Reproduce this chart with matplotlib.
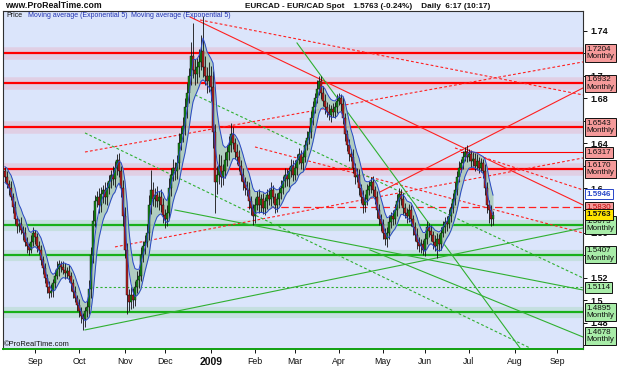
import matplotlib
matplotlib.use('Agg')
import matplotlib.pyplot as plt
import numpy as np
import pandas as pd

plt.rcParams['font.family'] = ['Liberation Sans', 'DejaVu Sans']

W, H, DPI = 625, 375, 100

# ── data ─────────────────────────────────────────────────────────────────────
start_date = '2008-08-11'
first_open = 1.615

close = [
    1.610, 1.604, 1.600, 1.592, 1.583, 1.572, 1.566, 1.568, 1.563, 1.560,
    1.552, 1.548, 1.545, 1.552, 1.560, 1.556, 1.548, 1.545, 1.536, 1.529,
    1.520, 1.512, 1.506, 1.508, 1.515, 1.522, 1.528, 1.532, 1.530, 1.527,
    1.524, 1.526, 1.522, 1.515, 1.507, 1.502, 1.496, 1.490, 1.486, 1.483,
    1.490, 1.494, 1.510, 1.540, 1.571, 1.588, 1.592, 1.585, 1.595, 1.598,
    1.592, 1.600, 1.606, 1.612, 1.608, 1.618, 1.625, 1.615, 1.600, 1.575,
    1.545, 1.505, 1.498, 1.505, 1.500, 1.512, 1.518, 1.522, 1.540, 1.548,
    1.552, 1.560, 1.585, 1.598, 1.590, 1.594, 1.588, 1.592, 1.585, 1.576,
    1.572, 1.578, 1.600, 1.612, 1.618, 1.615, 1.622, 1.640, 1.648, 1.655,
    1.672, 1.685, 1.700, 1.718, 1.705, 1.702, 1.708, 1.712, 1.722, 1.708,
    1.700, 1.695, 1.700, 1.690, 1.650, 1.605, 1.612, 1.620, 1.610, 1.615,
    1.625, 1.632, 1.638, 1.648, 1.640, 1.632, 1.628, 1.620, 1.612, 1.605,
    1.600, 1.598, 1.588, 1.582, 1.575, 1.585, 1.592, 1.585, 1.590, 1.582,
    1.588, 1.594, 1.590, 1.598, 1.592, 1.585, 1.590, 1.596, 1.600, 1.606,
    1.612, 1.608, 1.615, 1.620, 1.612, 1.618, 1.625, 1.630, 1.622, 1.628,
    1.638, 1.645, 1.650, 1.662, 1.672, 1.680, 1.688, 1.695, 1.685, 1.678,
    1.672, 1.668, 1.665, 1.670, 1.668, 1.672, 1.678, 1.680, 1.675, 1.662,
    1.648, 1.638, 1.630, 1.628, 1.618, 1.610, 1.612, 1.600, 1.592, 1.585,
    1.590, 1.598, 1.602, 1.605, 1.598, 1.592, 1.580, 1.572, 1.568, 1.560,
    1.555, 1.560, 1.570, 1.575, 1.572, 1.580, 1.588, 1.595, 1.590, 1.582,
    1.578, 1.575, 1.580, 1.572, 1.565, 1.558, 1.552, 1.548, 1.550, 1.545,
    1.555, 1.565, 1.562, 1.558, 1.552, 1.548, 1.555, 1.550, 1.560, 1.565,
    1.570, 1.568, 1.575, 1.582, 1.590, 1.598, 1.610, 1.618, 1.622, 1.628,
    1.632, 1.628, 1.630, 1.624, 1.626, 1.620, 1.624, 1.618, 1.622, 1.615,
    1.600, 1.585, 1.580, 1.572, 1.5763,
]

# wick lengths above / below the body, in 0.001
up_wick = [
    4, 5, 3, 6, 4, 5, 3, 4, 6, 3,   5, 4, 3, 6, 5, 3, 4, 5, 4, 3,
    4, 3, 5, 6, 4, 5, 7, 4, 3, 5,   6, 4, 5, 3, 4, 6, 3, 5, 4, 3,
    4, 6, 8, 7, 9, 6, 5, 8, 6, 5,   7, 5, 6, 4, 8, 6, 5, 6, 5, 7,
    8, 6, 5, 7, 6, 5, 8, 6, 7, 5,   6, 8, 9, 18, 7, 6, 8, 5, 7, 6,
    5, 7, 9, 6, 8, 5, 7, 9, 6, 8,   8, 9, 7, 12, 29, 10, 8, 12, 14, 31,
    10, 8, 12, 9, 14, 7, 8, 10, 9, 6,   7, 6, 8, 10, 6, 5, 7, 6, 5, 6,
    5, 6, 7, 5, 4, 6, 5, 7, 5, 6,   4, 5, 6, 7, 5, 4, 6, 5, 7, 5,
    6, 5, 4, 6, 5, 7, 5, 6, 4, 5,   5, 6, 4, 7, 6, 5, 8, 5, 5, 6,
    6, 5, 7, 4, 6, 5, 6, 5, 4, 6,   5, 4, 6, 5, 7, 4, 6, 5, 4, 6,
    5, 6, 4, 5, 6, 4, 5, 6, 5, 4,   4, 5, 6, 4, 5, 6, 7, 5, 4, 6,
    5, 4, 6, 5, 4, 5, 6, 4, 5, 4,   5, 6, 4, 5, 4, 6, 5, 4, 5, 6,
    4, 5, 6, 5, 6, 7, 5, 6, 4, 5,   5, 6, 5, 4, 6, 5, 6, 4, 5, 4,
    6, 5, 4, 5, 3,
]
down_wick = [
    5, 4, 6, 3, 5, 4, 6, 5, 4, 6,   4, 6, 5, 3, 4, 6, 5, 4, 5, 6,
    5, 6, 4, 3, 5, 4, 3, 6, 5, 4,   5, 4, 6, 7, 5, 4, 6, 5, 6, 10,
    7, 5, 6, 8, 7, 6, 5, 7, 6, 8,   6, 7, 5, 6, 5, 7, 6, 5, 8, 9,
    7, 17, 8, 6, 7, 5, 6, 7, 5, 6,  7, 5, 6, 8, 6, 7, 5, 8, 6, 7,
    8, 6, 5, 7, 6, 8, 7, 5, 6, 7,   8, 10, 9, 8, 7, 10, 8, 9, 7, 9,
    8, 10, 9, 12, 14, 27, 10, 8, 9, 7,   6, 5, 7, 6, 5, 6, 7, 5, 6, 7,
    6, 5, 7, 6, 8, 6, 5, 7, 6, 5,   6, 7, 5, 6, 5, 7, 6, 5, 6, 5,
    5, 6, 7, 5, 6, 5, 6, 4, 5, 6,   5, 4, 6, 5, 6, 5, 4, 5, 6, 5,
    6, 5, 4, 6, 5, 6, 5, 4, 6, 5,   6, 5, 6, 4, 5, 6, 5, 6, 5, 7,
    6, 5, 4, 6, 5, 6, 7, 5, 6, 5,   6, 8, 5, 6, 5, 4, 5, 6, 5, 6,
    5, 6, 5, 6, 7, 5, 6, 5, 6, 5,   6, 5, 6, 5, 6, 4, 10, 6, 5, 4,
    5, 6, 4, 5, 4, 5, 4, 5, 4, 5,   4, 5, 4, 5, 4, 5, 4, 5, 4, 6,
    6, 7, 11, 6, 5,
]

month_starts = ['2008-09-01', '2008-10-01', '2008-11-01', '2008-12-01', '2009-01-01',
                '2009-02-01', '2009-03-01', '2009-04-01', '2009-05-01', '2009-06-01',
                '2009-07-01', '2009-08-01', '2009-09-01']
month_labels = ['Sep', 'Oct', 'Nov', 'Dec', '2009', 'Feb', 'Mar', 'Apr', 'May',
                'Jun', 'Jul', 'Aug', 'Sep']

# price scale: ticks every 0.02, only these labels show past the boxes
y_ticks = [1.46, 1.48, 1.50, 1.52, 1.54, 1.56, 1.58, 1.60, 1.62, 1.64,
           1.66, 1.68, 1.70, 1.72, 1.74]
y_labeled = [1.48, 1.50, 1.52, 1.56, 1.60, 1.64, 1.68, 1.70, 1.74]

# horizontal support / resistance levels
red_levels = [1.7204, 1.6932, 1.6543, 1.6170]
green_levels = [1.5673, 1.5407, 1.4895]
thin_red_level = 1.6317
dashed_red_level = 1.5830
dotted_green_level = 1.5114
ema_last = 1.5946
trend_label = 1.4678

# trend lines: bar number and price at both ends
red_tl_x0 = [92.5, 97.5, 40, 187.5, 55, 225, 125]
red_tl_y0 = [1.7525, 1.7498, 1.6321, 1.5965, 1.5475, 1.6357, 1.6366]
red_tl_x1 = [289, 289, 289, 289, 289, 289, 289]
red_tl_y1 = [1.5849, 1.6830, 1.7124, 1.6892, 1.6268, 1.5983, 1.5599]
red_tl_dash = [False, True, True, False, True, True, True]

green_tl_x0 = [146, 40, 95, 85, 182.5, 40]
green_tl_y0 = [1.7293, 1.6491, 1.6830, 1.5804, 1.5448, 1.4735]
green_tl_x1 = [257.5, 262.5, 289, 289, 289, 289]
green_tl_y1 = [1.4574, 1.4574, 1.5198, 1.5091, 1.4672, 1.5644]
green_tl_dash = [False, True, True, False, False, False]

# ── derived series ───────────────────────────────────────────────────────────
close = np.array(close)
opn = np.concatenate([[first_open], close[:-1]])
high = np.maximum(opn, close) + np.array(up_wick) / 1000
low = np.minimum(opn, close) - np.array(down_wick) / 1000
idx = np.arange(len(close))
ema_hi = pd.Series(high).ewm(span=5, adjust=False).mean()
ema_lo = pd.Series(low).ewm(span=5, adjust=False).mean()

all_days = pd.bdate_range(start_date, '2009-09-30')
tick_pos = [all_days.searchsorted(pd.Timestamp(d)) for d in month_starts]

# ── figure ───────────────────────────────────────────────────────────────────
fig = plt.figure(figsize=(W / DPI, H / DPI), dpi=DPI, facecolor='white')
ax = fig.add_axes([3 / W, 26 / H, 580 / W, 338 / H])
ax.set_facecolor('#dbe5fb')
ax.set_xlim(-1, 289)
ax.set_ylim(1.4565, 1.7578)

for s in ['left', 'top', 'right']:
    ax.spines[s].set_color('#303030')
    ax.spines[s].set_linewidth(0.8)
ax.spines['bottom'].set_color('#10a010')
ax.spines['bottom'].set_linewidth(1.4)

# horizontal levels with soft glow
for lv in red_levels:
    ax.axhline(lv, color='#ff6070', lw=9, alpha=0.16, zorder=1)
    ax.axhline(lv, color='#ff0000', lw=1.6, zorder=2)
for lv in green_levels:
    ax.axhline(lv, color='#40c040', lw=8, alpha=0.14, zorder=1)
    ax.axhline(lv, color='#18b018', lw=1.6, zorder=2)
ax.plot([228, 289], [thin_red_level] * 2, color='#ff0000', lw=0.8, zorder=2)
ax.plot([121, 289], [dashed_red_level] * 2, color='#ff2020', lw=0.9,
        dashes=(6, 3), zorder=2)
ax.plot([43, 289], [dotted_green_level] * 2, color='#30b030', lw=0.8,
        dashes=(2, 2), zorder=2)

# trend lines
for x0, y0, x1, y1, d in zip(red_tl_x0, red_tl_y0, red_tl_x1, red_tl_y1, red_tl_dash):
    ax.plot([x0, x1], [y0, y1], color='#ff2020', lw=0.8,
            dashes=(2.5, 2) if d else (None, None), zorder=2)
for x0, y0, x1, y1, d in zip(green_tl_x0, green_tl_y0, green_tl_x1, green_tl_y1, green_tl_dash):
    ax.plot([x0, x1], [y0, y1], color='#30b030', lw=0.8,
            dashes=(2.5, 2) if d else (None, None), zorder=2)

# EMA(5) envelope of highs and lows
ax.fill_between(idx, ema_lo, ema_hi, color='#a9c9b6', alpha=0.85, zorder=3, lw=0)
ax.plot(idx, ema_hi, color='#2846c8', lw=0.7, zorder=5)
ax.plot(idx, ema_lo, color='#2846c8', lw=0.7, zorder=5)

# candles
up = close >= opn
ax.vlines(idx, low, high, color='#101010', lw=0.6, zorder=4)
body = np.maximum(np.abs(close - opn), 0.0006)
ax.bar(idx, body, bottom=np.minimum(opn, close), width=0.9,
       color=np.where(up, '#138a13', '#b82020'), edgecolor='#101010',
       lw=0.3, zorder=4)

# axes ticks
ax.yaxis.tick_right()
ax.set_yticks(y_ticks)
ax.set_yticklabels([f'{v:.2f}'.rstrip('0').rstrip('.') if v in y_labeled else ''
                    for v in y_ticks], fontsize=6.5, fontweight='bold')
ax.tick_params(axis='y', length=3, width=0.7, pad=2, colors='#101010')
ax.set_xticks(tick_pos)
ax.set_xticklabels(month_labels, fontsize=6.3)
ax.get_xticklabels()[4].set_fontweight('bold')
ax.get_xticklabels()[4].set_fontsize(7.5)
ax.tick_params(axis='x', length=3, width=0.7, pad=2.5, colors='#101010')

# right-hand value boxes
tr = ax.get_yaxis_transform()

def vbox(y, s, fc, ec='#101010', col='#101010', fw='normal'):
    ax.text(1.006, y, s, transform=tr, fontsize=5.8, color=col, fontweight=fw,
            ha='left', va='center', linespacing=1.05, zorder=20, clip_on=False,
            bbox=dict(boxstyle='square,pad=0.22', fc=fc, ec=ec, lw=0.7))

for lv in red_levels:
    vbox(lv, f'{lv:.4f}\nMonthly', '#f59a9a')
vbox(thin_red_level, f'{thin_red_level:.4f}', '#f59a9a')
for lv in green_levels:
    vbox(lv, f'{lv:.4f}\nMonthly', '#a8eca8')
vbox(dotted_green_level, f'{dotted_green_level:.4f}', '#a8eca8')
vbox(trend_label, f'{trend_label:.4f}\nMonthly', '#a8eca8')
vbox(ema_last, f'{ema_last:.4f}', 'white', ec='#2846c8', col='#2846c8', fw='bold')
vbox(dashed_red_level, f'{dashed_red_level:.4f}', '#f59a9a', col='#c00000')
vbox(close[-1], f'{close[-1]:.4f}', '#ffe400', fw='bold')

# header and in-plot captions
def ftx(x, y, s, fs, col='#101010', fw='normal'):
    fig.text(x / W, 1 - y / H, s, fontsize=fs, color=col, fontweight=fw,
             ha='left', va='center')

ftx(5, 6, 'www.ProRealTime.com', 6.3, fw='bold')
ftx(245, 6, 'EURCAD - EUR/CAD Spot    1.5763 (-0.24%)    Daily  6:17 (10:17)', 5.9, fw='bold')
ftx(6, 15.5, 'Price', 5.0)
ftx(28, 15.5, 'Moving average (Exponential 5)', 5.0, col='#2030b0')
ftx(131, 15.5, 'Moving average (Exponential 5)', 5.0, col='#2030b0')
ftx(4, 344, '©ProRealTime.com', 5.4)

plt.savefig('out.png', dpi=DPI, facecolor='white')
